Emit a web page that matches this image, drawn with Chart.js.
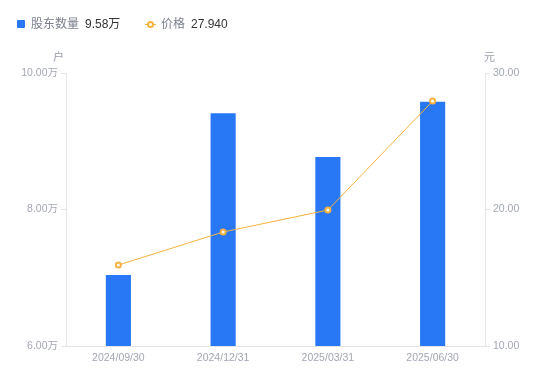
<!DOCTYPE html>
<html><head><meta charset="utf-8">
<script src="https://cdn.jsdelivr.net/npm/chart.js@4/dist/chart.umd.min.js"></script>
<style>
html,body{margin:0;padding:0;background:#fff;}
#wrap{position:relative;width:550px;height:381px;font-family:"Liberation Sans","Noto Sans CJK SC",sans-serif;}
canvas{position:absolute;left:0;top:0;}
.lg{position:absolute;top:17px;font-size:12px;line-height:14px;white-space:nowrap;}
.lab{color:#7a7f8c;}
.val{color:#333;margin-left:6px;}
.unit{position:absolute;top:48px;font-size:11px;color:#9aa0ad;}
</style></head>
<body><div id="wrap">
<canvas id="c" width="550" height="381"></canvas>
<div class="lg" style="left:17px"><span style="display:inline-block;width:8px;height:8px;background:#2878f5;border-radius:1px;margin-right:6px;vertical-align:0px"></span><span class="lab">股东数量</span><span class="val">9.58万</span></div>
<div class="lg" style="left:145px"><span style="display:inline-block;position:relative;width:11px;height:8px;margin-right:5px;vertical-align:0px"><span style="position:absolute;left:0;top:3.5px;width:11px;height:1px;background:#f8b23e"></span><span style="position:absolute;left:2px;top:0.5px;width:3px;height:3px;border:2px solid #f8b23e;border-radius:50%;background:#fff"></span></span><span class="lab">价格</span><span class="val">27.940</span></div>
<div class="unit" style="left:53px">户</div>
<div class="unit" style="left:484px">元</div>
</div>
<script>
const categories=['2024/09/30','2024/12/31','2025/03/31','2025/06/30'];
const holders=[7.04,9.41,8.77,9.58];
const prices=[15.93,18.35,19.96,27.94];
const leftTicks=[6,8,10];
const rightTicks=[10,20,30];
const tickColor='#a3a7b4';
const axisColor='#e3e4e8';
const font={family:'"Liberation Sans","Noto Sans CJK SC",sans-serif',size:10.5};
new Chart(document.getElementById('c'),{
  data:{labels:categories,datasets:[
    {type:'line',data:prices,yAxisID:'y1',borderColor:'#f8b23e',borderWidth:1,pointRadius:2.5,pointBorderWidth:2,pointBackgroundColor:'#fff',pointBorderColor:'#f8b23e',tension:0,order:0},
    {type:'bar',data:holders,yAxisID:'y',backgroundColor:'#2878f5',barPercentage:0.24,categoryPercentage:1,order:1}
  ]},
  options:{responsive:false,animation:false,devicePixelRatio:1,
    layout:{padding:{top:73,left:0,right:0,bottom:0}},
    plugins:{legend:{display:false},tooltip:{enabled:false}},
    scales:{
      x:{grid:{display:false,drawTicks:false},border:{color:axisColor},ticks:{color:tickColor,font:font,padding:6,maxRotation:0},afterFit(s){s.height=35;}},
      y:{position:'left',min:6,max:10,afterBuildTicks(s){s.ticks=leftTicks.map(v=>({value:v}));},
        grid:{drawOnChartArea:false,tickLength:5,color:axisColor},border:{color:axisColor},
        ticks:{color:tickColor,font:font,padding:3,callback:v=>v.toFixed(2)+'万'},afterFit(s){s.width=66;}},
      y1:{position:'right',min:10,max:30,afterBuildTicks(s){s.ticks=rightTicks.map(v=>({value:v}));},
        grid:{drawOnChartArea:false,tickLength:5,color:axisColor},border:{color:axisColor},
        ticks:{color:tickColor,font:font,padding:3,callback:v=>v.toFixed(2)},afterFit(s){s.width=65;}}
    }
  }
});
</script></body></html>
